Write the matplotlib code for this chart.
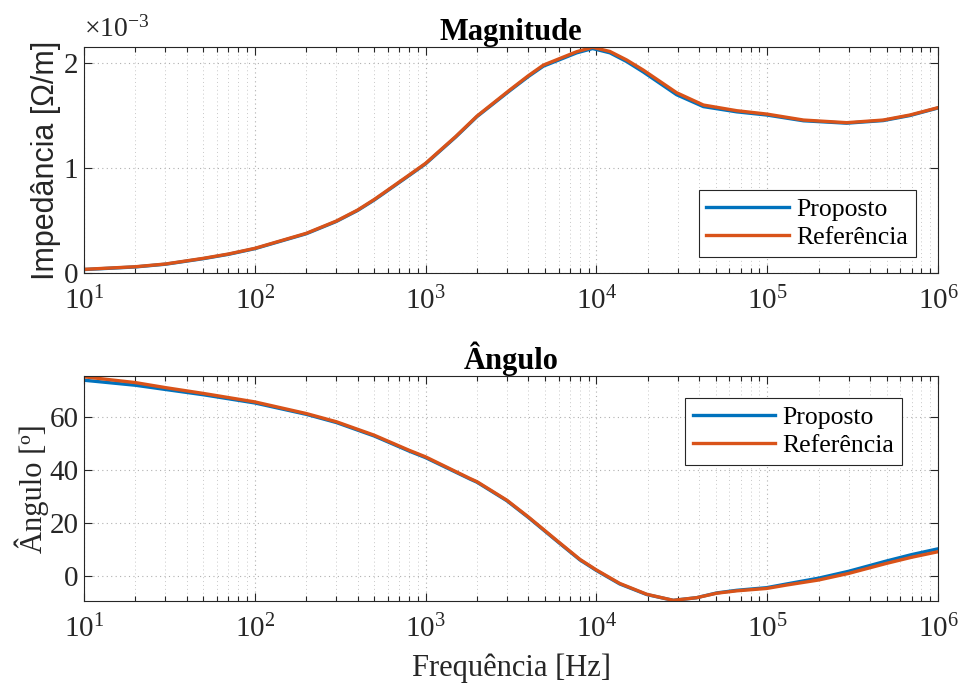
import matplotlib
matplotlib.use("Agg")
import matplotlib.pyplot as plt
import numpy as np
from matplotlib.ticker import LogLocator, NullFormatter

plt.rcParams['font.family'] = ['Liberation Serif', 'DejaVu Serif']
plt.rcParams['mathtext.fontset'] = 'custom'
plt.rcParams['mathtext.rm'] = 'Liberation Serif'
plt.rcParams['mathtext.it'] = 'Liberation Serif:italic'

# magnitude, x1e-3 ohm/m
freq_mag = [10, 20, 30, 50, 70, 100, 200, 300, 400, 500, 600, 800, 1000, 1500, 2000,
            3120, 4000, 4890, 7670, 9500, 12000, 15000, 18800, 29500, 42300, 66300, 99300,
            163000, 292000, 478000, 685000, 1e6]
mag_prop = [0.033, 0.058, 0.084, 0.137, 0.178, 0.232, 0.374, 0.491, 0.596, 0.695, 0.785,
            0.928, 1.04, 1.295, 1.49, 1.738, 1.872, 1.97, 2.097, 2.138, 2.097, 2.015, 1.915,
            1.698, 1.585, 1.535, 1.505, 1.45, 1.427, 1.452, 1.50, 1.572]
mag_ref = [0.035, 0.060, 0.086, 0.14, 0.181, 0.235, 0.378, 0.495, 0.60, 0.70, 0.79,
           0.933, 1.045, 1.30, 1.495, 1.745, 1.88, 1.98, 2.108, 2.15, 2.11, 2.03, 1.933,
           1.717, 1.60, 1.546, 1.514, 1.457, 1.432, 1.457, 1.505, 1.575]

# angle [deg]
freq_ang = [10, 20, 30, 50, 100, 200, 300, 500, 800, 1000, 1820, 2000, 2990, 3990, 5980,
            8010, 1e4, 13700, 19700, 28200, 38600, 50600, 66300, 99300, 130000, 2e5, 3e5,
            5e5, 7e5, 1e6]
ang_prop = [74.1, 72.2, 70.6, 68.6, 65.5, 61.2, 58.1, 53.0, 47.3, 44.8, 36.7, 35.5, 28.5,
            22.2, 12.8, 6.1, 2.1, -3.0, -7.0, -9.2, -8.2, -6.4, -5.4, -4.4, -3.0, -0.8,
            1.8, 5.7, 8.1, 10.3]
ang_ref = [75.4, 73.2, 71.3, 69.1, 65.9, 61.5, 58.4, 53.3, 47.6, 45.1, 36.9, 35.7, 28.7,
           22.4, 13.0, 6.3, 2.3, -2.8, -6.9, -9.2, -8.2, -6.5, -5.6, -4.7, -3.4, -1.5,
           1.0, 4.8, 7.1, 9.2]

blue = '#0072BD'
orange = '#D95319'
edge = '#262626'

fig = plt.figure(figsize=(9.6, 6.86), dpi=100)
ax1 = fig.add_axes([0.0875, 0.602, 0.8896, 0.3294])
ax2 = fig.add_axes([0.0875, 0.1239, 0.8896, 0.328])


def style(ax):
    ax.set_xscale('log')
    ax.set_xlim(10, 1e6)
    ax.xaxis.set_major_locator(LogLocator(base=10, numticks=10))
    ax.xaxis.set_minor_locator(LogLocator(base=10, subs=np.arange(2, 10), numticks=20))
    ax.xaxis.set_minor_formatter(NullFormatter())
    ax.tick_params(which='both', direction='in', top=True, right=True, color=edge,
                   labelcolor=edge, labelsize=21, width=0.8)
    ax.tick_params(which='major', length=6)
    ax.tick_params(which='minor', length=3.5)
    ax.tick_params(axis='x', pad=10)
    ax.tick_params(axis='y', pad=4)
    ax.grid(True, which='major', linestyle=(0, (1, 3)), color='#b0b0b0', linewidth=0.8)
    ax.grid(True, which='minor', linestyle=(0, (1, 3)), color='#c8c8c8', linewidth=0.7)
    for s in ax.spines.values():
        s.set_color(edge)
        s.set_linewidth(0.8)


ax1.plot(freq_mag, mag_prop, color=blue, lw=2.4, label='Proposto')
ax1.plot(freq_mag, mag_ref, color=orange, lw=2.4, label='Referência')
style(ax1)
ax1.set_ylim(0, 2.152)
ax1.set_yticks([0, 1, 2])
ax1.set_yticklabels(['0', '1', '2'])
ax1.set_title('Magnitude', fontsize=22, fontweight='bold', pad=3)
ax1.set_ylabel('Impedância [Ω/m]', family=['Liberation Sans', 'DejaVu Sans'], fontsize=22,
               color=edge, labelpad=2)
ax1.text(0.0, 1.02, r'$\times10^{\mathrm{-3}}$', transform=ax1.transAxes, fontsize=20,
         color=edge, ha='left', va='bottom')
leg1 = ax1.legend(loc='lower right', bbox_to_anchor=(0.974, 0.071), fontsize=18.5,
                  fancybox=False, framealpha=1, edgecolor=edge, handlelength=3.2,
                  borderaxespad=0, labelspacing=0.2, handletextpad=0.3, borderpad=0.3)
leg1.get_frame().set_linewidth(0.8)

ax2.plot(freq_ang, ang_prop, color=blue, lw=2.4, label='Proposto')
ax2.plot(freq_ang, ang_ref, color=orange, lw=2.4, label='Referência')
style(ax2)
ax2.set_ylim(-9.45, 75.7)
ax2.set_yticks([0, 20, 40, 60])
ax2.set_title('Ângulo', fontsize=22, fontweight='bold', pad=3)
ax2.set_ylabel('Ângulo [º]', fontsize=22, color=edge, labelpad=0)
ax2.set_xlabel('Frequência [Hz]', fontsize=22, color=edge, labelpad=7)
leg2 = ax2.legend(loc='upper right', bbox_to_anchor=(0.958, 0.902), fontsize=18.5,
                  fancybox=False, framealpha=1, edgecolor=edge, handlelength=3.2,
                  borderaxespad=0, labelspacing=0.2, handletextpad=0.3, borderpad=0.3)
leg2.get_frame().set_linewidth(0.8)

fig.savefig('out.png', dpi=100)
